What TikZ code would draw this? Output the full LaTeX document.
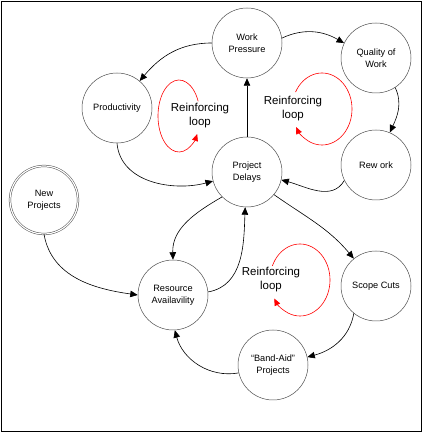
\documentclass[tikz,border=0pt]{standalone}
\usepackage{fontspec}
\setmainfont{Liberation Sans}
\usetikzlibrary{arrows.meta,calc}
\begin{document}
\begin{tikzpicture}[x=1pt,y=1pt,
  var/.style={circle,draw=black!70,line width=0.5pt,minimum size=70pt,inner sep=0pt,align=center,font=\fontsize{9.2}{11.7}\selectfont},
  link/.style={draw=black,line width=0.6pt,-{Triangle[length=7.5pt,width=6.5pt]}},
  loopline/.style={draw=red,line width=0.6pt,-{Triangle[length=7pt,width=6pt]}},
  looptext/.style={align=center,font=\fontsize{11.5}{14}\selectfont,inner sep=0pt}]
\useasboundingbox (0,0) rectangle (424,436);
\draw[line width=1.1pt] (1.5,4.5) rectangle (421.5,434.5);

\node[var] (wp) at (247,393) {Work\\Pressure};
\node[var] (qw) at (376,378) {Quality of\\Work};
\node[var] (rw) at (376,271) {Rew ork};
\node[var] (pd) at (247,264) {Project\\Delays};
\node[var] (pr) at (117,328) {Productivity};
\node[var,double,double distance=1.2pt,minimum size=68pt] (np) at (44,236) {New\\Projects};
\node[var] (ra) at (173,141) {Resource\\Availavility};
\node[var] (sc) at (376,150) {Scope Cuts};
\node[var] (ba) at (273,71) {“Band-Aid”\\Projects};

\path[link] (wp.180) to[out=180,in=50] (pr.50);
\path[link] (pr.270) to[out=-85,in=195] (pd.195);
\path[link] (wp.8) to[out=25,in=150] (qw.155);
\path[link] (qw.-57) to[out=-65,in=65] (rw.67);
\path[link] (rw.206) to[out=240,in=-15] (pd.-13);
\path[link] (pd.north) -- (wp.south);
\path[link] (pd.-40) to[out=-35,in=130] (sc.129);
\path[link] (sc.231) to[out=-100,in=15] (ba.13);
\path[link] (ba.193) to[out=190,in=-75] (ra.-87);
\path[link] (ra.5) to[out=10,in=-92] (pd.-93);
\path[link] (pd.225) to[out=210,in=92] (ra.90);
\path[link] (np.270) to[out=-80,in=172] (ra.180);

\coordinate (c1) at (179,320);
\coordinate (c2) at (322,327);
\coordinate (c3) at (300,156);
\draw[loopline] ($(c1)+(24:21 and 36)$) arc[start angle=24,end angle=330,x radius=21,y radius=36];
\draw[loopline] ($(c2)+(152:30 and 36)$) arc[start angle=152,end angle=-150,x radius=30,y radius=36];
\draw[loopline] ($(c3)+(157:30 and 36)$) arc[start angle=157,end angle=-149,x radius=30,y radius=36];

\node[looptext] (l1) at (200,320) {Reinforcing\\loop};
\node[looptext] (l2) at (293,327) {Reinforcing\\loop};
\node[looptext] (l3) at (271,156) {Reinforcing\\loop};
\end{tikzpicture}
\end{document}
